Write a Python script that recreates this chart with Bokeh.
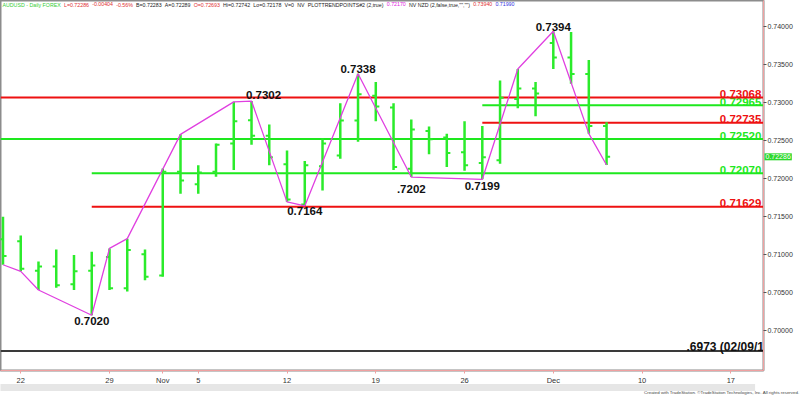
import pandas as pd
from bokeh.plotting import figure
from bokeh.models import ColumnDataSource, FixedTicker, PrintfTickFormatter, Label, Range1d, Title
from bokeh.core.properties import value
from bokeh.embed import file_html
from bokeh.resources import INLINE

# ---------------- data ----------------
dates = ["2018-10-19", "2018-10-22", "2018-10-23", "2018-10-24", "2018-10-25", "2018-10-26",
         "2018-10-29", "2018-10-30", "2018-10-31", "2018-11-01", "2018-11-02",
         "2018-11-05", "2018-11-06", "2018-11-07", "2018-11-08", "2018-11-09",
         "2018-11-12", "2018-11-13", "2018-11-14", "2018-11-15", "2018-11-16",
         "2018-11-19", "2018-11-20", "2018-11-21", "2018-11-22", "2018-11-23",
         "2018-11-26", "2018-11-27", "2018-11-28", "2018-11-29", "2018-11-30",
         "2018-12-03", "2018-12-04", "2018-12-05", "2018-12-06"]
opens = [0.71200, 0.71174, 0.70787, 0.70843, 0.70607, 0.70787,
         0.70968, 0.70555, 0.71003, 0.70723, 0.72089,
         0.71925, 0.72089, 0.72463, 0.72768, 0.72562,
         0.72188, 0.71660, 0.72162, 0.72304, 0.72763,
         0.73090, 0.72936, 0.72128, 0.72626, 0.72540,
         0.72347, 0.72205, 0.72240, 0.73046, 0.73184,
         0.73786, 0.73593, 0.73378, 0.72693]
highs = [0.71496, 0.71251, 0.70907, 0.71067, 0.70993, 0.71036,
         0.71080, 0.71209, 0.71067, 0.72131, 0.72582,
         0.72175, 0.72463, 0.73010, 0.73020, 0.72711,
         0.72369, 0.72231, 0.72531, 0.72991, 0.73380,
         0.73271, 0.72991, 0.72778, 0.72686, 0.72591,
         0.72755, 0.72691, 0.73291, 0.73442, 0.73271,
         0.73940, 0.73930, 0.73562, 0.72742]
lows = [0.70865, 0.70778, 0.70533, 0.70564, 0.70533, 0.70200,
        0.70533, 0.70513, 0.70662, 0.70706, 0.71801,
        0.71801, 0.72024, 0.72111, 0.72446, 0.72175,
        0.71693, 0.71640, 0.71844, 0.72260, 0.72485,
        0.72755, 0.72111, 0.72020, 0.72321, 0.72153,
        0.72102, 0.71990, 0.72196, 0.72927, 0.72820,
        0.73442, 0.73249, 0.72591, 0.72178]
closes = [0.70981, 0.70813, 0.70843, 0.70594, 0.70778, 0.70856,
          0.70555, 0.71058, 0.70706, 0.72089, 0.71973,
          0.72080, 0.72446, 0.72755, 0.72562, 0.72282,
          0.71724, 0.72175, 0.72463, 0.72763, 0.73110,
          0.72948, 0.72153, 0.72647, 0.72518, 0.72338,
          0.72175, 0.72282, 0.73064, 0.73184, 0.73120,
          0.73593, 0.73378, 0.72691, 0.72286]

# trend-point zigzag
zz_dates = ["2018-10-19", "2018-10-22", "2018-10-23", "2018-10-26", "2018-10-29", "2018-10-30",
            "2018-11-02", "2018-11-07", "2018-11-08", "2018-11-12", "2018-11-13", "2018-11-16",
            "2018-11-21", "2018-11-27", "2018-11-29", "2018-12-03", "2018-12-05", "2018-12-06"]
zz_prices = [0.70865, 0.70778, 0.70533, 0.70200, 0.71080, 0.71209,
             0.72582, 0.73010, 0.73020, 0.71693, 0.71640, 0.73380,
             0.72020, 0.71990, 0.73442, 0.73940, 0.72591, 0.72178]

# pivot labels
hi_texts = ["0.7302", "0.7338", "0.7394"]
hi_dates = ["2018-11-08", "2018-11-16", "2018-12-03"]
hi_prices = [0.7302, 0.7338, 0.7394]
lo_texts = ["0.7020", "0.7164", ".7202", "0.7199"]
lo_dates = ["2018-10-26", "2018-11-13", "2018-11-21", "2018-11-27"]
lo_prices = [0.7020, 0.7164, 0.7202, 0.7199]

# horizontal levels
level_values = [0.73068, 0.72965, 0.72735, 0.72520, 0.72070, 0.71629]
level_colors = ["#EE1111", "#1EE81E", "#EE1111", "#1EE81E", "#1EE81E", "#EE1111"]
level_starts = [None, "2018-11-27", "2018-11-27", None, "2018-10-26", "2018-10-26"]
old_low = 0.6973
old_low_text = ".6973 (02/09/18)"

# axis ticks
tick_dates = ["2018-10-22", "2018-10-29", "2018-11-01", "2018-11-05", "2018-11-12",
              "2018-11-19", "2018-11-26", "2018-12-03", "2018-12-10", "2018-12-17"]
tick_labels = ["22", "29", "Nov", "5", "12", "19", "26", "Dec", "10", "17"]
y_ticks = [0.700, 0.705, 0.710, 0.715, 0.720, 0.725, 0.730, 0.735, 0.740]

# header pieces
hdr_texts = ["AUDUSD - Daily FOREX", "L=0.72286", "-0.00404", "-0.56%", "B=0.72283",
             "A=0.72289", "O=0.72693", "Hi=0.72742", "Lo=0.72178", "V=0", "NV",
             "PLOTTRENDPOINTS#2 (2,true)", "0.72170", "NV NZD (2,false,true,\"\",\"\")",
             "0.73940", "0.71990"]
hdr_colors = ["#33CC33", "#E03030", "#E03030", "#E03030", "#222222",
              "#222222", "#E03030", "#222222", "#222222", "#222222", "#222222",
              "#222222", "#E020E0", "#222222", "#E03030", "#3030E0"]
credit = "Created with TradeStation. \u00a9TradeStation Technologies, Inc. All rights reserved."

# ---------------- layout ----------------
cal = pd.bdate_range("2018-10-19", "2018-12-31")
pos = {d.strftime("%Y-%m-%d"): i for i, d in enumerate(cal)}

FW, FH = 763, 370
X0, X1 = -0.14, 42.84
Y0, Y1 = 0.69473, 0.74344


def px_x(fx):
    # frame-relative pixel -> data x
    return X0 + fx * (X1 - X0) / FW


def px_y(fy):
    return Y1 - fy * (Y1 - Y0) / FH


# approximate Arial advance widths (per 1000 em) for laying out the header pieces
AW = {" ": 278, "-": 333, ".": 278, ",": 278, "=": 584, "%": 889, "#": 556, "(": 333, ")": 333,
      "\"": 355, "A": 667, "B": 667, "D": 722, "E": 667, "F": 611, "H": 722, "I": 278, "L": 556,
      "N": 722, "O": 778, "P": 667, "R": 722, "S": 667, "T": 611, "U": 722, "V": 667, "X": 667,
      "Z": 611, "a": 556, "e": 556, "f": 278, "i": 222, "l": 222, "o": 556, "r": 333, "s": 500,
      "t": 278, "u": 556, "y": 500}


def tw(s):
    return sum(AW.get(ch, 556) for ch in s) / 1000.0


GAP = 0.6
HDR_W = 512.0
total_em = sum(tw(t) for t in hdr_texts) + GAP * (len(hdr_texts) - 1)
hfs = HDR_W / total_em
hx, cur = [], 2.0
for t in hdr_texts:
    hx.append(cur)
    cur += (tw(t) + GAP) * hfs

p = figure(frame_width=FW, frame_height=FH, x_range=Range1d(X0, X1), y_range=Range1d(Y0, Y1),
           y_axis_location="right", output_backend="svg", toolbar_location=None,
           min_border_left=0, min_border_top=0, min_border_right=29, min_border_bottom=16,
           background_fill_color="white", border_fill_color="white")
p.xgrid.visible = False
p.ygrid.visible = False
p.outline_line_color = "#8c8c8c"
p.outline_line_width = 2

FONT = "Liberation Sans"

p.add_layout(Title(text=credit, align="right", offset=-36, text_font=FONT, text_font_size="4.4px",
                   text_font_style="normal", text_color="#444444", standoff=0), "below")

# axes
p.xaxis.ticker = FixedTicker(ticks=[pos[d] for d in tick_dates])
p.xaxis.major_label_overrides = {pos[d]: t for d, t in zip(tick_dates, tick_labels)}
p.xaxis.axis_line_color = "#F0A0A0"
p.xaxis.major_tick_line_color = "#F0A0A0"
p.xaxis.major_tick_out = 3
p.xaxis.major_tick_in = 0
p.xaxis.minor_tick_line_color = None
p.xaxis.major_label_standoff = 2
p.xaxis.major_label_text_font = FONT
p.xaxis.major_label_text_font_size = "7.5px"
p.xaxis.major_label_text_color = "#333333"

p.yaxis.ticker = FixedTicker(ticks=y_ticks)
p.yaxis.formatter = PrintfTickFormatter(format="%.5f")
p.yaxis.axis_line_color = "#F0A0A0"
p.yaxis.major_tick_line_color = "#555555"
p.yaxis.major_tick_out = 3
p.yaxis.major_tick_in = 0
p.yaxis.minor_tick_line_color = None
p.yaxis.major_label_standoff = 1
p.yaxis.major_label_text_font = FONT
p.yaxis.major_label_text_font_size = "7px"
p.yaxis.major_label_text_color = "#333333"

# level value labels (green ones first so the red ones sit on top), then the level lines
lx0 = [pos[s] if s is not None else X0 for s in level_starts]
order = sorted(range(len(level_values)), key=lambda i: level_colors[i] == "#EE1111")
tsrc = ColumnDataSource(dict(y=[level_values[i] for i in order],
                             c=[level_colors[i] for i in order],
                             t=["%.5f" % level_values[i] for i in order]))
p.text(x=X1 - 0.12, y="y", text="t", text_color="c", source=tsrc, text_align="right",
       text_baseline="alphabetic", y_offset=-3.5, text_font=value(FONT),
       text_font_style="bold", text_font_size="11.5px")
lsrc = ColumnDataSource(dict(x0=lx0, x1=[X1] * len(level_values), y=level_values, c=level_colors))
p.segment(x0="x0", y0="y", x1="x1", y1="y", line_color="c", line_width=2, source=lsrc)

# old low line
p.segment(x0=[X0], y0=[old_low], x1=[X1], y1=[old_low], line_color="#3a3a3a", line_width=2)

# OHLC bars
xs = [pos[d] for d in dates]
tk = 0.2
bsrc = ColumnDataSource(dict(x=xs, xl=[x - tk for x in xs], xr=[x + tk for x in xs],
                             o=opens, h=highs, l=lows, c=closes))
BAR = "#2BEB2B"
p.segment(x0="x", y0="l", x1="x", y1="h", line_color=BAR, line_width=2.5, source=bsrc)
p.segment(x0="xl", y0="o", x1="x", y1="o", line_color=BAR, line_width=2, source=bsrc)
p.segment(x0="x", y0="c", x1="xr", y1="c", line_color=BAR, line_width=2, source=bsrc)

# zigzag
p.line([pos[d] for d in zz_dates], zz_prices, line_color="#E040E0", line_width=1.3)

# old low label
p.text(x=[px_x(686)], y=[old_low], text=[old_low_text], text_color="#111111",
       text_align="left", text_baseline="alphabetic", y_offset=-3.5,
       text_font=value(FONT), text_font_style="bold", text_font_size="12px")

# pivot labels
hsrc = ColumnDataSource(dict(x=[pos[d] for d in hi_dates], y=hi_prices, t=hi_texts,
                             xo=[12, 0, 0], yo=[-6, -5, -4]))
p.text(x="x", y="y", text="t", x_offset="xo", y_offset="yo", source=hsrc,
       text_align="center", text_baseline="alphabetic", text_color="#111111",
       text_font=value(FONT), text_font_style="bold", text_font_size="11.5px")
losrc = ColumnDataSource(dict(x=[pos[d] for d in lo_dates], y=lo_prices, t=lo_texts,
                              yo=[2, 1, 8, 3]))
p.text(x="x", y="y", text="t", y_offset="yo", source=losrc,
       text_align="center", text_baseline="top", text_color="#111111",
       text_font=value(FONT), text_font_style="bold", text_font_size="11.5px")

# header
hsrc2 = ColumnDataSource(dict(x=[px_x(v) for v in hx], y=[px_y(1)] * len(hx),
                              t=hdr_texts, c=hdr_colors))
p.text(x="x", y="y", text="t", text_color="c", source=hsrc2, text_align="left",
       text_baseline="top", text_font=value(FONT), text_font_size="%.2fpx" % hfs)

# last price tag on the price axis (in the right side panel so it is not clipped)
p.add_layout(Label(x=X1, y=closes[-1], x_offset=1, text="%.5f" % closes[-1],
                   text_baseline="middle", text_align="left", text_color="white",
                   text_font=FONT, text_font_size="7px",
                   background_fill_color="#2BD82B", padding=1), "right")

# grey scroll strip under the date axis
p.add_layout(Label(x=X0, y=px_y(FH + 17), text="\u00a0" * 425, text_baseline="middle",
                   text_align="left", text_font=FONT, text_font_size="6.4px",
                   background_fill_color="#E6E6E6", padding=0), "below")

open("out.html", "w").write(file_html(p, INLINE))
